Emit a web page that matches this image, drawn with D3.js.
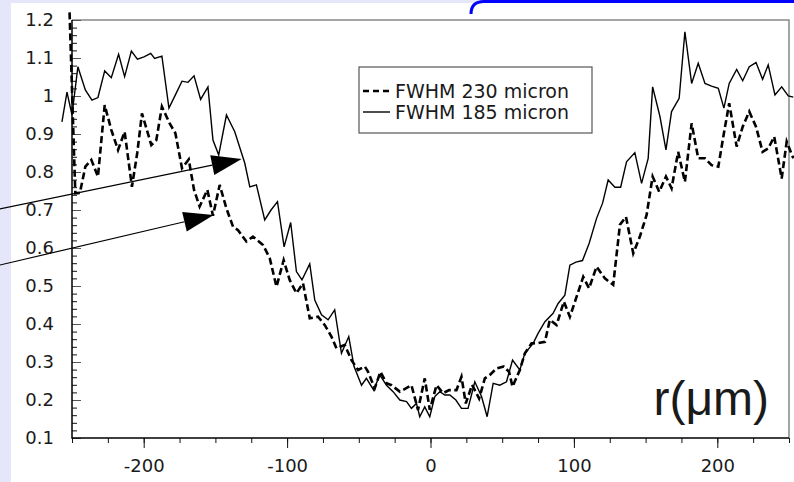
<!DOCTYPE html>
<html>
<head>
<meta charset="utf-8">
<script src="https://cdn.jsdelivr.net/npm/d3@7"></script>
<style>
	html, body { margin: 0; padding: 0; background: #e6e6fa; }
	#profileChart { width: 794px; height: 482px; }
	svg text { font-family: "DejaVu Sans", sans-serif; fill: #1a1a1a; }
</style>
</head>
<body>
<div id="profileChart"></div>
<script>
// FWHM 185 micron (solid)
const solidR = [-257.0,-253.5,-250.0,-245.9,-240.7,-236.1,-231.9,-227.2,-222.6,-217.5,-213.3,-208.6,-204.4,-199.8,-195.1,-192.4,-187.3,-182.4,-177.9,-173.3,-169.1,-164.9,-160.3,-155.2,-151.7,-147.7,-142.3,-136.5,-129.5,-126.0,-121.4,-115.6,-111.2,-106.7,-102.1,-97.5,-93.5,-89.6,-84.2,-80.7,-76.0,-71.4,-66.8,-62.1,-57.0,-53.3,-48.1,-44.7,-39.6,-35.4,-30.7,-26.1,-21.4,-16.7,-13.3,-9.8,-7.5,-4.0,-0.5,3.0,6.5,10.0,13.5,17.7,21.6,26.2,30.9,35.6,39.5,43.7,48.3,53.0,57.2,62.3,65.8,71.6,75.1,79.8,85.5,89.0,93.7,97.2,101.4,106.0,110.6,115.8,120.0,123.9,128.6,132.6,136.7,142.5,147.2,151.8,154.9,160.0,164.2,168.1,173.4,177.4,182.1,186.7,191.4,196.0,200.7,204.6,208.3,213.5,217.7,222.3,227.0,231.6,235.5,240.2,244.9,249.5,253.0];
const solidV = [0.932,1.010,0.950,1.077,1.016,0.989,0.996,1.066,1.048,1.110,1.051,1.118,1.097,1.103,1.112,1.099,1.105,0.968,1.003,1.039,1.036,1.053,0.991,1.024,0.884,0.845,0.950,0.906,0.823,0.761,0.766,0.674,0.700,0.722,0.603,0.667,0.538,0.516,0.558,0.463,0.424,0.411,0.437,0.323,0.367,0.288,0.239,0.257,0.226,0.266,0.239,0.222,0.200,0.196,0.178,0.191,0.156,0.182,0.156,0.209,0.222,0.213,0.213,0.200,0.178,0.178,0.248,0.209,0.156,0.244,0.239,0.248,0.305,0.279,0.323,0.349,0.376,0.406,0.428,0.454,0.476,0.555,0.563,0.567,0.612,0.678,0.718,0.779,0.760,0.760,0.827,0.851,0.770,0.836,1.024,0.946,0.858,0.959,0.994,1.169,1.033,1.086,1.033,1.026,1.020,0.968,1.033,1.070,1.040,1.077,1.088,1.044,1.082,1.003,1.024,1.000,0.997];

// FWHM 230 micron (dashed)
const dashR = [-251.7,-247.7,-244.5,-240.7,-236.5,-231.9,-227.2,-222.6,-217.9,-213.3,-208.2,-204.5,-201.2,-194.7,-191.2,-187.3,-181.9,-177.9,-173.3,-168.6,-164.9,-161.0,-155.6,-151.7,-147.0,-142.3,-137.7,-134.2,-128.4,-123.8,-116.8,-112.1,-107.4,-102.4,-98.2,-93.5,-88.9,-84.2,-78.4,-73.7,-69.1,-65.6,-59.8,-55.1,-50.5,-45.8,-43.5,-38.9,-34.9,-30.7,-27.2,-21.4,-17.5,-13.3,-8.7,-4.0,-0.5,4.2,8.8,13.0,18.1,21.6,24.6,29.0,33.9,37.9,41.4,46.0,51.1,54.8,57.2,62.3,65.8,70.5,75.0,79.8,83.2,87.9,93.0,97.2,101.9,106.5,110.6,115.8,121.6,127.4,132.1,136.3,141.4,146.0,150.7,154.9,159.5,164.2,168.1,172.7,177.4,182.1,186.7,191.4,196.0,200.7,204.6,208.3,213.5,217.7,222.3,227.0,231.6,235.5,239.7,244.9,248.4,253.0];
const dashV = [1.220,0.744,0.745,0.814,0.832,0.788,0.976,0.911,0.858,0.906,0.761,0.850,0.954,0.871,0.884,0.972,0.928,0.902,0.810,0.833,0.753,0.709,0.753,0.685,0.766,0.704,0.656,0.647,0.617,0.630,0.608,0.573,0.498,0.568,0.516,0.481,0.507,0.415,0.419,0.397,0.367,0.336,0.345,0.305,0.279,0.288,0.274,0.231,0.274,0.244,0.239,0.222,0.230,0.239,0.174,0.257,0.174,0.239,0.218,0.226,0.226,0.261,0.191,0.240,0.204,0.257,0.266,0.283,0.288,0.274,0.235,0.279,0.323,0.349,0.350,0.353,0.411,0.397,0.459,0.419,0.472,0.524,0.494,0.551,0.520,0.503,0.661,0.682,0.586,0.630,0.687,0.788,0.748,0.788,0.757,0.853,0.774,0.928,0.836,0.836,0.818,0.814,0.902,0.981,0.867,0.919,0.959,0.919,0.853,0.862,0.893,0.783,0.880,0.836];

const xTickVals = [-200, -100, 0, 100, 200];
const yTickVals = [0.1, 0.2, 0.3, 0.4, 0.5, 0.6, 0.7, 0.8, 0.9, 1, 1.1, 1.2];
const legendLabels = ['FWHM 230 micron', 'FWHM 185 micron'];
const unitLabel = 'r(\u03bcm)';

// annotation arrows, in data units (start off the left edge)
const arrowFromR = [-300.5, -300.5];
const arrowFromV = [0.703, 0.555];
const arrowToR = [-131.7, -151.2];
const arrowToV = [0.834, 0.687];

const thisMargin = { left: 72, right: 5, top: 20, bottom: 44 };

function makeProfileElements(parentDivID){
	const thisChartDiv = document.getElementById(parentDivID);
	const profileSVG = d3.select(thisChartDiv).append('svg')
		.attr('width', 794)
		.attr('height', 482);
	return { thisChartDiv, profileSVG };
}

function zipSeries(rs, vs){
	return rs.map((r, i) => ({ r: r, v: vs[i] }));
}

function drawArrow(g, x0, y0, x1, y1){
	const ang = Math.atan2(y1 - y0, x1 - x0);
	const headLen = 30, headW = 10;
	const bx = x1 - headLen * Math.cos(ang), by = y1 - headLen * Math.sin(ang);
	const nx = -Math.sin(ang) * headW, ny = Math.cos(ang) * headW;

	g.append('line')
		.attr('x1', x0).attr('y1', y0)
		.attr('x2', bx).attr('y2', by)
		.attr('stroke', '#000')
		.attr('stroke-width', 1.2);
	g.append('path')
		.attr('d', `M${x1},${y1}L${bx + nx},${by + ny}L${bx - nx},${by - ny}Z`)
		.attr('fill', '#000');
}

function buildProfileChart(){
	const { profileSVG } = makeProfileElements('profileChart');

	// white slide area + blue header edge
	profileSVG.append('rect')
		.attr('x', 11).attr('y', 3)
		.attr('width', 783).attr('height', 479)
		.attr('fill', '#fff');
	profileSVG.append('path')
		.attr('d', 'M471,14Q471,1.5,484,1.5L794,1.5')
		.attr('fill', 'none')
		.attr('stroke', '#0000ff')
		.attr('stroke-width', 3);

	const xScale = d3.scaleLinear().domain([-250, 250]).range([thisMargin.left, 794 - thisMargin.right]);
	const yScale = d3.scaleLinear().domain([0.1, 1.2]).range([482 - thisMargin.bottom, thisMargin.top]);

	const [xl, xr] = xScale.range();
	const [yb, yt] = yScale.range();

	// frame: top and right in grey
	profileSVG.append('path')
		.attr('d', `M${xl},${yt}H${xr}V${yb}`)
		.attr('fill', 'none')
		.attr('stroke', '#888')
		.attr('stroke-width', 1.5);

	// y axis, ticks pointing inward
	const yMinor = d3.range(0, 56).map(i => 0.1 + i * 0.02);
	profileSVG.append('g')
		.attr('transform', `translate(${xl},0)`)
		.call(d3.axisLeft(yScale).tickValues(yMinor).tickSize(-5).tickFormat(''))
		.call(g => g.select('.domain').remove())
		.call(g => g.selectAll('line').attr('stroke', '#111'));
	const yAxisG = profileSVG.append('g')
		.attr('transform', `translate(${xl},0)`)
		.call(d3.axisLeft(yScale).tickValues(yTickVals).tickSize(-9).tickPadding(18).tickFormat(d => String(d)))
		.call(g => g.select('.domain').remove());
	yAxisG.selectAll('line').attr('stroke', '#555');
	yAxisG.selectAll('text').style('font-size', '18px').attr('fill', '#1a1a1a');

	// x axis, ticks pointing outward
	const xMinor = d3.range(-250, 251, 25);
	profileSVG.append('g')
		.attr('transform', `translate(0,${yb})`)
		.call(d3.axisBottom(xScale).tickValues(xMinor).tickSize(5).tickFormat(''))
		.call(g => g.select('.domain').remove())
		.call(g => g.selectAll('line').attr('stroke', '#111'));
	const xAxisG = profileSVG.append('g')
		.attr('transform', `translate(0,${yb})`)
		.call(d3.axisBottom(xScale).tickValues(xTickVals).tickSize(10).tickPadding(11).tickFormat(d => String(d)))
		.call(g => g.select('.domain').remove());
	xAxisG.selectAll('line').attr('stroke', '#111');
	xAxisG.selectAll('text').style('font-size', '18px').attr('fill', '#1a1a1a');

	// black axis lines
	profileSVG.append('path')
		.attr('d', `M${xl},${yt}V${yb}H${xr}`)
		.attr('fill', 'none')
		.attr('stroke', '#000')
		.attr('stroke-width', 1.5);

	const lineFn = d3.line().x(d => xScale(d.r)).y(d => yScale(d.v));

	profileSVG.append('path')
		.datum(zipSeries(dashR, dashV))
		.attr('d', lineFn)
		.attr('fill', 'none')
		.attr('stroke', '#000')
		.attr('stroke-width', 2.6)
		.attr('stroke-dasharray', '7,3.5');

	profileSVG.append('path')
		.datum(zipSeries(solidR, solidV))
		.attr('d', lineFn)
		.attr('fill', 'none')
		.attr('stroke', '#000')
		.attr('stroke-width', 1.4)
		.attr('stroke-linejoin', 'miter');

	// arrows
	const arrowG = profileSVG.append('g');
	arrowFromR.forEach((r, i) => {
		drawArrow(arrowG, xScale(r), yScale(arrowFromV[i]), xScale(arrowToR[i]), yScale(arrowToV[i]));
	});

	// legend
	const legendG = profileSVG.append('g').attr('transform', 'translate(359,67)');
	legendG.append('rect')
		.attr('width', 233).attr('height', 66)
		.attr('fill', '#fff')
		.attr('stroke', '#555')
		.attr('stroke-width', 1.2);
	legendLabels.forEach((lbl, i) => {
		legendG.append('line')
			.attr('x1', 4).attr('x2', 31)
			.attr('y1', 24 + i * 21).attr('y2', 24 + i * 21)
			.attr('stroke', '#000')
			.attr('stroke-width', i === 0 ? 2.6 : 1.4)
			.attr('stroke-dasharray', i === 0 ? '6,4' : null);
		legendG.append('text')
			.attr('x', 36).attr('y', 31 + i * 21)
			.style('font-size', '19px')
			.text(lbl);
	});

	// unit label
	profileSVG.append('text')
		.attr('x', 769).attr('y', 415)
		.attr('text-anchor', 'end')
		.style('font-family', '"Liberation Sans", Arial, sans-serif')
		.style('font-size', '48px')
		.attr('fill', '#000')
		.text(unitLabel);
}

buildProfileChart();
</script>
</body>
</html>
